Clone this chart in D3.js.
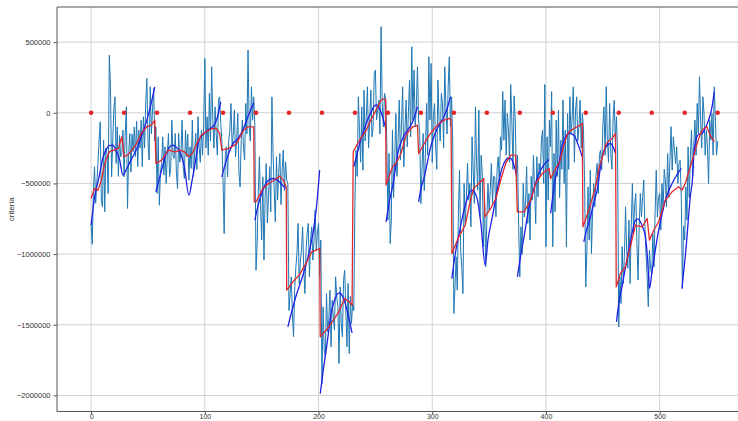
<!DOCTYPE html>
<html>
<head>
<meta charset="utf-8">
<script src="https://cdn.jsdelivr.net/npm/d3@7"></script>
<style>
  body { margin: 0; background: #fff; }
  svg text { font-family: 'Liberation Sans', Arial, sans-serif; fill: #333; }
</style>
</head>
<body>
<svg width="738" height="421"></svg>
<script>
const svg = d3.select('svg');

const width = +svg.attr('width');
const height = +svg.attr('height');

//noisy criteria series, one value per step (in thousands), one row per 29-step block
const criteria = [
  -790, -930, -560, -382, -640, -500, -359, -200, -64, -620, -665, -194, -700, -250, -290, -571, 408, 200, -453, -200, 30, 113, -359, -100, -450, -160, -311, -290, -123,
  -453, -150, 42, -677, -300, -146, -420, -150, -276, -100, -311, -60, -380, -123, -250, -52, -382, -28, -250, 60, 243, -200, -335, 184, -150, 20, 172, -200, -100,
  -571, -170, -654, -420, -359, -170, -441, -241, -500, -300, -146, -453, -394, -52, -300, -323, -146, -420, -536, -146, -350, -288, -52, -380, -465, -123, -311, -150, -477,
  -241, -394, -52, -450, -288, -146, -400, -28, -241, -350, -123, -300, -76, 385, -250, -28, -300, 137, -200, 326, -52, -250, 42, -146, -300, 90, 113, -76, -200,
  -477, -854, -300, -241, -453, -200, -123, 66, -241, -150, 19, -311, -200, -5, -420, -524, -194, -52, -250, -335, 66, -150, 444, -99, -200, 184, -52, 113, -100,
  -1114, -925, -571, -311, -665, -900, -453, -1043, -600, -359, -780, -595, -382, -700, 113, -288, -548, -771, -311, -618, -420, -288, -650, -406, -264, -550, -347, -477, -500,
  -1400, -1279, -1161, -1420, -1585, -1255, -1100, -996, -783, -1208, -1050, -972, -807, -1100, -1279, -972, -850, -783, -1161, -900, -807, -1043, -900, -689, -972, -850, -783, -1161, -900,
  -1916, -1373, -1680, -1727, -1279, -1550, -1467, -1255, -1656, -1326, -1450, -1538, -1161, -1300, -1373, -1774, -1232, -1491, -1585, -1184, -1114, -1400, -1656, -1208, -1703, -1300, -1491, -1350, -1400,
  -618, -264, -450, 113, -123, -350, 42, -406, 160, -200, -28, 184, -250, -52, 160, -170, -100, 278, 302, -50, 19, 90, -150, 609, 66, -100, 137, 100, -200,
  -760, -288, -925, -760, -123, -600, -335, -5, -450, -194, 90, -335, -52, 184, -382, -123, 90, -241, -5, 231, -170, 467, -52, 302, -100, 42, 326, -50, -150,
  -642, -400, -146, -550, -288, 66, -300, 396, -52, 349, -350, -28, 66, -241, -400, 231, -52, -200, 137, 66, -250, 326, 42, -150, 184, 396, -100, 113, -200,
  -1420, -1232, -1019, -1255, -700, -406, -972, -1100, -1279, -500, -783, -600, -358, -618, -500, -807, -170, -406, -642, 42, -350, -547, 19, -736, -300, -429, -948, -600, -1090,
  -760, -500, -689, -550, -358, -642, -450, -453, -736, -400, -311, -500, -170, -264, 150, -194, 90, -300, -5, -123, -350, 200, -52, -400, 120, -52, -450, -300, -807,
  -1161, -807, -1000, -500, -736, -642, -382, -783, -571, -901, -450, -618, -300, -547, -783, -311, -595, -358, -453, -200, -123, -500, 200, -948, -170, -618, -52, -241, 150,
  -948, -288, -700, -52, -450, 19, -600, -194, -400, 90, -500, -123, -950, -5, -400, 113, -146, -52, 184, -350, 19, 113, -200, -99, 90, -250, -5, -123, -500,
  -1232, -972, -524, -901, -406, -996, -700, -500, -665, -450, -358, -571, -300, -264, -406, -99, 42, -300, 184, -194, -350, 66, -288, -400, -52, 90, -200, -28, -300,
  -1515, -1161, -1350, -948, -1208, -1000, -665, -972, -1100, -760, -1208, -800, -500, -854, -650, -571, -925, -1184, -800, -571, -736, -600, -476, -807, -1000, -1161, -1373, -972, -1100,
  -1137, -854, -1090, -700, -406, -736, -600, -571, -830, -500, -689, -400, -476, -665, -288, -600, -335, -99, -406, -170, -264, -359, -241, -500, -359, -335, -600, -1243, -800,
  -900, -524, -760, -241, -600, -311, -123, -450, -241, -52, -300, 66, -146, 255, -52, -250, 113, -5, -300, -123, -241, -500, -52, -194, -5, -300, 184, -52, -300, -200
];

//red smoothed line as [step, value in thousands]
const smoothed = [
  [0, -607], [3, -536], [6, -548], [9, -477], [12, -359], [16, -276], [20, -264], [24, -252], [27, -170], [29, -311],
  [32, -300], [36, -264], [40, -217], [44, -146], [49, -99], [53, -87], [56, -52], [57, -359], [62, -335], [68, -264],
  [74, -276], [78, -264], [82, -276], [86, -311], [89, -288], [93, -217], [97, -158], [101, -135], [106, -111], [110, -111],
  [113, -146], [115, -264], [121, -252], [126, -229], [128, -217], [134, -123], [138, -99], [143, -99], [143.5, -630], [145, -630],
  [151, -536], [156, -500], [161, -477], [166, -448], [169, -477], [171.6, -524], [172, -1255], [177.5, -1196], [183, -1149], [189, -1066],
  [194, -984], [198, -972], [201, -960], [201.5, -1585], [206.7, -1538], [211, -1491], [217, -1420], [223, -1314], [227, -1338], [229.5, -1362],
  [230.5, -276], [236, -194], [242, -123], [246, -52], [250.6, 19], [255, 90], [258, 101], [259, 90], [259.4, -512], [262, -453],
  [265, -382], [268, -359], [272.5, -288], [277, -160], [280, -123], [283, -99], [287, -87], [288, -288], [293, -217], [297.4, -158],
  [302, -111], [306, -76], [310.5, -52], [315, -40], [316.5, -47], [317.3, -996], [323.4, -878], [329, -795], [333.6, -618], [336.5, -535],
  [341, -500], [345.3, -465], [346.3, -736], [351.4, -677], [356, -606], [360.2, -476], [364.6, -358], [369, -299], [373.3, -299], [374.8, -701],
  [380.7, -701], [386.6, -618], [391, -500], [396.8, -429], [402.6, -394], [404.1, -465], [408.5, -394], [412, -350], [415, -250], [418, -170],
  [420.2, -135], [424.5, -111], [427.4, -99], [430.3, -87], [431.9, -76], [432.5, -807], [437.7, -689], [443.6, -524], [447, -380], [449.4, -320],
  [452.3, -230], [455, -200], [458.2, -182], [461.2, -146], [461.8, -1232], [465.5, -1137], [469.8, -1090], [474.2, -948], [478.7, -795], [481, -800],
  [484.6, -807], [489, -748], [491, -901], [494.8, -831], [499.1, -771], [505, -618], [510.9, -559], [516.7, -524], [519.6, -547], [522.5, -500],
  [526.9, -382], [531.3, -264], [534, -190], [537.1, -123], [541.5, -99], [544.4, -158], [548, -205]
];

//blue fitted curves, one list of [step, value in thousands] per piece
const fitA = [[0, -795], [3, -600], [7, -453], [10, -330], [13, -264], [16, -232], [19, -229], [22, -270], [25, -330], [28, -441], [31, -400], [35, -335], [38, -290], [41, -241], [45, -150], [49, -52], [52, 40], [56, 184]];
const fitB = [[57, -559], [62, -406], [66, -290], [70, -235], [72, -229], [75, -245], [78, -276], [82, -382], [86, -583], [89, -470], [91, -382], [95, -194], [99, -150], [103, -123], [109, -76], [112, 0], [114, 78]];
const fitC = [[115, -453], [118, -360], [121, -288], [126, -205], [128, -193], [134, -111], [139, -5], [143, 71]];
const fitD = [[144, -760], [147, -650], [150, -571], [153, -510], [156, -477], [160, -465], [164, -477], [167, -500], [171, -536]];
const fitE = [[173, -1515], [180, -1302], [187, -1130], [191, -1010], [195, -854], [198, -680], [201, -406]];
const fitF = [[201.5, -1987], [204, -1830], [206.7, -1680], [209, -1540], [211, -1420], [214, -1330], [217, -1279], [219, -1275], [221.3, -1302], [223.5, -1350], [225.7, -1420], [229.5, -1557]];
const fitG = [[231, -382], [234, -290], [237, -194], [240, -120], [243, -52], [246, 0], [249, 47], [251, 55], [253.5, 31], [256, -20], [259.4, -123]];
const fitH = [[259.4, -772], [262, -640], [265, -524], [267.5, -400], [269.6, -288], [272, -220], [275.4, -158], [279.8, -105], [283, -60], [287, 42]];
const fitI = [[288, -630], [290, -540], [293, -453], [296, -340], [298.6, -241], [301, -180], [304.4, -111], [307, -75], [310.3, -28], [313, 30], [316.1, 113]];
const fitJ = [[317.2, -1173], [320, -1010], [323.7, -854], [327, -720], [329.5, -642], [332, -580], [334.8, -547], [337, -560], [339.8, -618], [343, -800], [346.5, -1078], [349, -900], [352.9, -735], [356, -600], [358.8, -476], [361.5, -390], [364.6, -335], [367, -320], [369, -323], [371, -350], [373.9, -434]];
const fitK = [[374.9, -1161], [378, -1000], [380.7, -878], [383.5, -740], [386.6, -618], [390, -520], [393.9, -429], [398, -370], [402.6, -330]];
const fitL = [[404.1, -712], [406, -590], [408, -480], [411.4, -358], [414.3, -230], [417.3, -170], [420.2, -146], [424.5, -158], [428, -220], [431.9, -311]];
const fitM = [[433.3, -913], [436, -820], [439.2, -736], [442, -640], [445, -547], [449, -330], [453.8, -230], [456.8, -217], [459, -240], [461.2, -288]];
const fitN = [[462, -1479], [464, -1350], [467, -1226], [470, -1090], [472.8, -972], [476, -840], [478.7, -760], [481, -750], [483, -771], [485.5, -820], [487.5, -878], [489.5, -1050], [491, -1243], [493, -1140], [494.8, -1043], [497, -930], [499.1, -831], [502, -720], [505, -618], [508, -550], [510.9, -500], [515, -440], [519.1, -394]];
const fitO = [[519.6, -1243], [521, -1130], [522.5, -1019], [524, -880], [525.4, -736], [527, -590], [529, -453], [530, -300], [532.7, -170], [535, -150], [537.1, -146], [540, -110], [543, -52], [546, 40], [548, 149]];
const fits = [fitA, fitB, fitC, fitD, fitE, fitF, fitG, fitH, fitI, fitJ, fitK, fitL, fitM, fitN, fitO];

//red markers sitting on zero
const markerSteps = [0, 29, 58, 87, 116, 145, 174, 203, 232, 261, 290, 319, 348, 377, 406, 435, 464, 493, 522, 551];

//tick labels
const xTicks = [0, 100, 200, 300, 400, 500];
const yTicks = [-2000000, -1500000, -1000000, -500000, 0, 500000];

const margin = { top: 7, right: 1, bottom: 9.5, left: 57 };
const innerLeft = margin.left;
const innerRight = width - margin.right;
const innerTop = margin.top;
const innerBottom = height - margin.bottom;

const xScale = d3.scaleLinear()
  .domain([-30, 568])
  .range([innerLeft, innerRight]);

const yScale = d3.scaleLinear()
  .domain([-2113700, 748600])
  .range([innerBottom, innerTop]);

//grid
svg.append('g')
  .selectAll('line').data(xTicks).enter().append('line')
    .attr('x1', d => xScale(d)).attr('x2', d => xScale(d))
    .attr('y1', innerTop).attr('y2', innerBottom)
    .attr('stroke', '#d2d2d2').attr('stroke-width', 1);
svg.append('g')
  .selectAll('line').data(yTicks).enter().append('line')
    .attr('x1', innerLeft).attr('x2', width)
    .attr('y1', d => yScale(d)).attr('y2', d => yScale(d))
    .attr('stroke', '#d2d2d2').attr('stroke-width', 1);

svg.append('clipPath').attr('id', 'plot-clip')
  .append('rect')
    .attr('x', innerLeft).attr('y', innerTop)
    .attr('width', width - innerLeft).attr('height', innerBottom - innerTop);

const plot = svg.append('g').attr('clip-path', 'url(#plot-clip)');

//noisy series
const rawLine = d3.line()
  .x((d, i) => xScale(i))
  .y(d => yScale(d * 1000));

plot.append('path')
  .datum(criteria)
  .attr('fill', 'none')
  .attr('stroke', '#1f77b4')
  .attr('stroke-width', 1)
  .attr('stroke-linejoin', 'round')
  .attr('d', rawLine);

//fitted pieces
const fitLine = d3.line()
  .x(d => xScale(d[0]))
  .y(d => yScale(d[1] * 1000))
  .curve(d3.curveMonotoneX);

plot.selectAll('.fit').data(fits).enter().append('path')
  .attr('class', 'fit')
  .attr('fill', 'none')
  .attr('stroke', '#1f1fe6')
  .attr('stroke-width', 1.3)
  .attr('d', fitLine);

//smoothed red line
const pairLine = d3.line()
  .x(d => xScale(d[0]))
  .y(d => yScale(d[1] * 1000));

plot.append('path')
  .datum(smoothed)
  .attr('fill', 'none')
  .attr('stroke', '#e0282c')
  .attr('stroke-width', 1.3)
  .attr('stroke-linejoin', 'round')
  .attr('d', pairLine);

plot.selectAll('.marker').data(markerSteps).enter().append('circle')
  .attr('class', 'marker')
  .attr('cx', d => xScale(d))
  .attr('cy', yScale(0))
  .attr('r', 2.3)
  .attr('fill', '#e3262b');

//axes
const xAxis = d3.axisBottom(xScale)
  .tickValues(xTicks)
  .tickSize(2.5)
  .tickPadding(0)
  .tickFormat(d3.format('d'));

const yAxis = d3.axisLeft(yScale)
  .tickValues(yTicks)
  .tickSize(3.5)
  .tickPadding(3)
  .tickFormat(d3.format('d'));

const xAxisG = svg.append('g')
  .attr('transform', `translate(0,${innerBottom})`)
  .call(xAxis);
const yAxisG = svg.append('g')
  .attr('transform', `translate(${innerLeft},0)`)
  .call(yAxis);

[xAxisG, yAxisG].forEach(g => {
  g.select('.domain').remove();
  g.selectAll('.tick line').attr('stroke', '#555');
  g.selectAll('.tick text').attr('font-size', 7.5).attr('fill', '#333');
});
xAxisG.selectAll('.tick text').attr('font-size', 7);

//spines: left, bottom and top (no right spine in the picture)
const spines = [
  [innerLeft, innerTop, innerLeft, innerBottom],
  [innerLeft, innerBottom, width, innerBottom],
  [innerLeft, innerTop, width, innerTop]
];
svg.append('g')
  .selectAll('line').data(spines).enter().append('line')
    .attr('x1', d => d[0]).attr('y1', d => d[1])
    .attr('x2', d => d[2]).attr('y2', d => d[3])
    .attr('stroke', '#555')
    .attr('stroke-width', 1);

svg.append('text')
  .attr('transform', `translate(14,${(innerTop + innerBottom) / 2}) rotate(-90)`)
  .attr('text-anchor', 'middle')
  .attr('font-size', 8)
  .text('criteria');
</script>
</body>
</html>
